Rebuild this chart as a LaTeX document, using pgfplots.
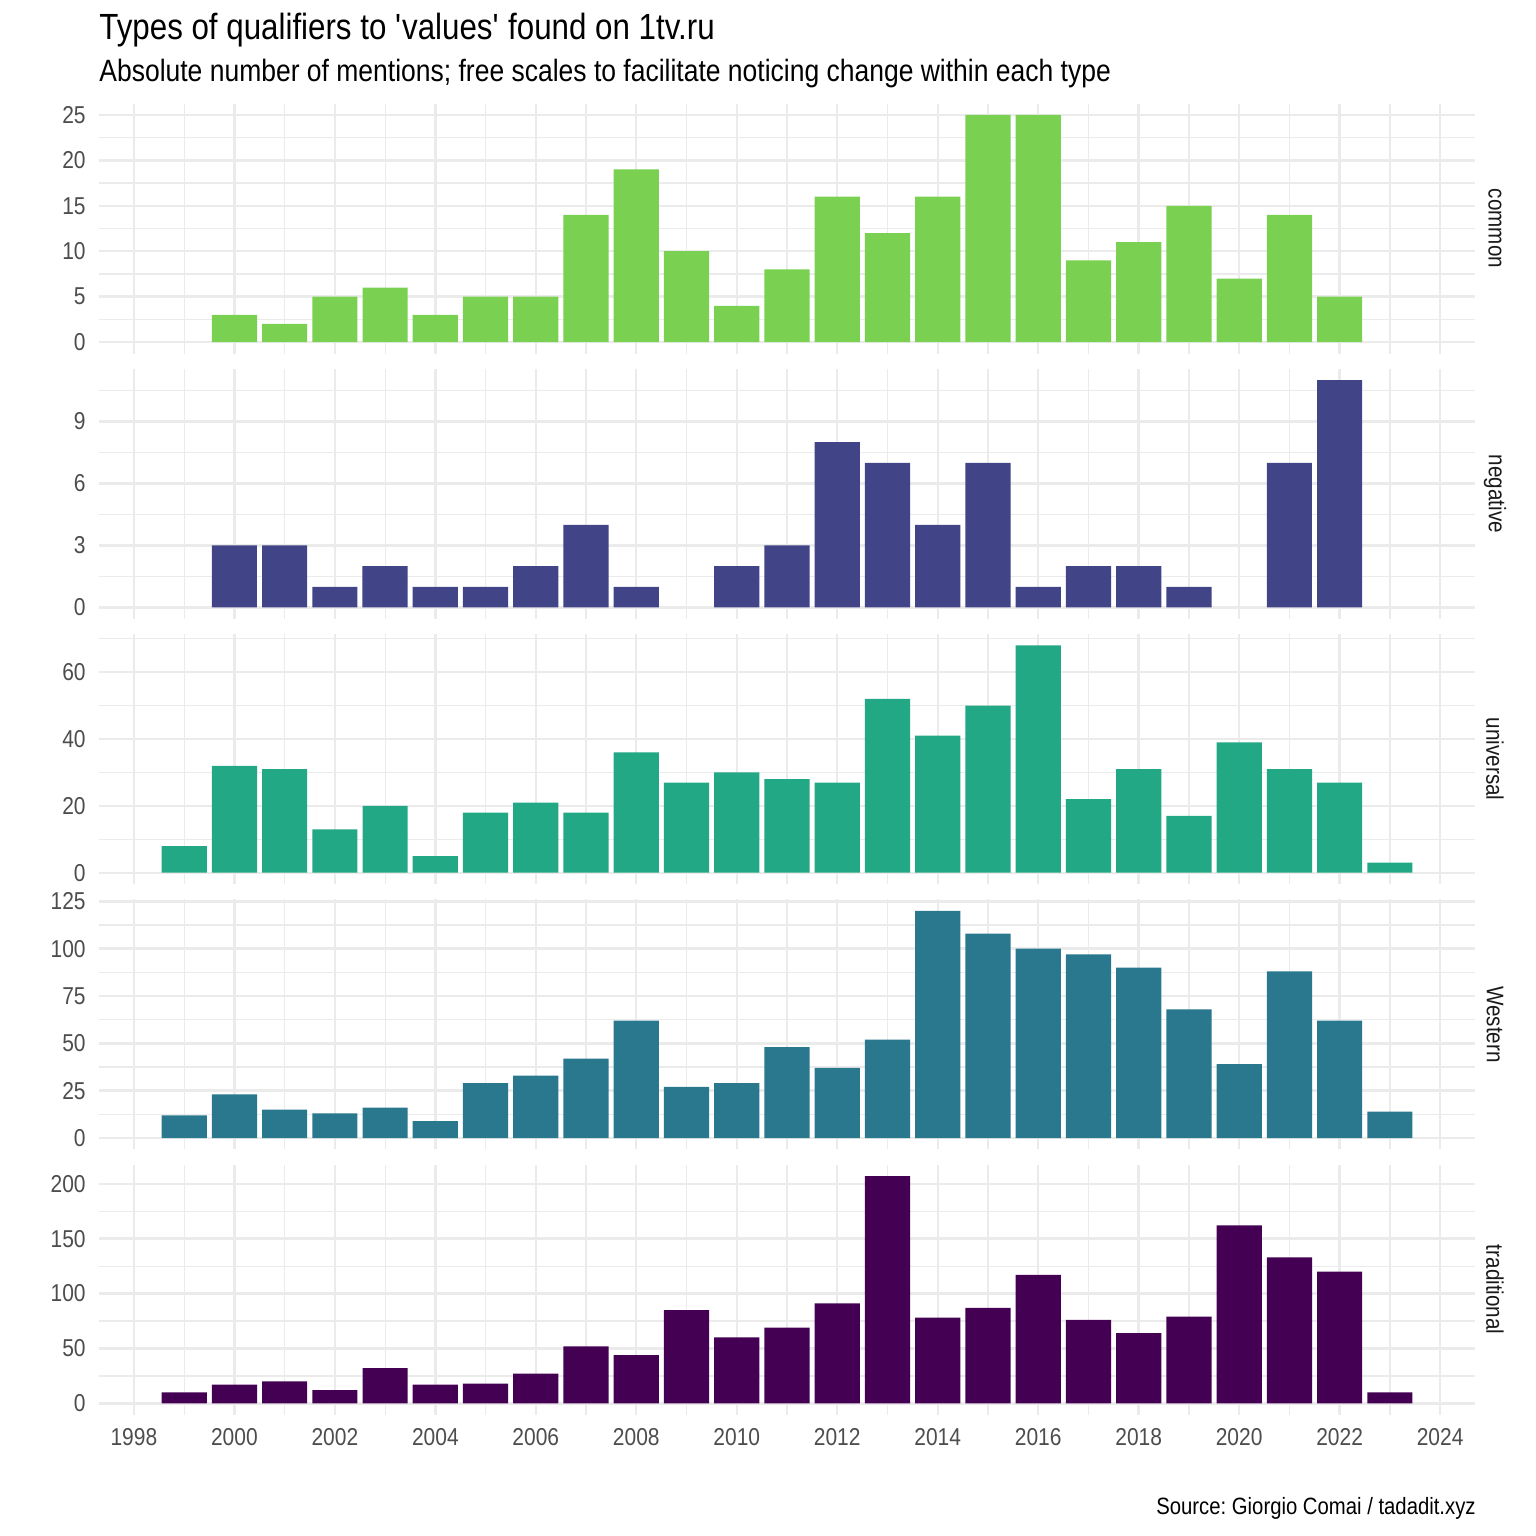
\documentclass[border=0pt]{standalone}
\usepackage{fontspec}
\setmainfont{Liberation Sans}[FakeStretch=0.86]
\usepackage{pgfplots}
\pgfplotsset{compat=1.18}
\frenchspacing
\definecolor{gridc}{HTML}{EBEBEB}
\definecolor{ticktxt}{HTML}{4D4D4D}
\definecolor{striptxt}{HTML}{1A1A1A}
\definecolor{cCommon}{HTML}{7AD151}
\definecolor{cNegative}{HTML}{414487}
\definecolor{cUniversal}{HTML}{22A884}
\definecolor{cWestern}{HTML}{2A788E}
\definecolor{cTraditional}{HTML}{440154}
\pgfplotsset{
  panel/.style={
    scale only axis, width=688bp, height=125bp,
    xmin=1997.305, xmax=2024.695,
    axis line style={draw=none},
    major tick length=0pt, minor tick length=0pt,
    xtick={1998,2000,...,2024},
    minor xtick={1999,2001,...,2023},
    grid=both,
    major grid style={draw=gridc, line width=1.2bp},
    minor grid style={draw=gridc, line width=0.6bp},
    xticklabels={},
    /pgf/number format/assume math mode=true,
    /pgf/number format/1000 sep={},
    yticklabel style={font=\fontsize{12.2bp}{13bp}\selectfont, text=ticktxt, anchor=east, inner sep=0pt, xshift=-6.5bp},
    xticklabel style={font=\fontsize{12.2bp}{13bp}\selectfont, text=ticktxt, anchor=north, inner sep=0pt, yshift=-6.5bp},
  },
  bars/.style={ybar, bar width=0.9, draw=none, fill=#1},
}
\begin{document}
\begin{tikzpicture}
\path[use as bounding box] (0,0) rectangle (768bp,-768bp);
% common
\begin{axis}[panel, at={(49.5bp,-51.75bp)}, anchor=north west,
  ymin=-1.25, ymax=26.25, ytick={0,5,...,25}, minor ytick={2.5,7.5,...,22.5}]
\addplot[bars=cCommon] coordinates {(2000,3)(2001,2)(2002,5)(2003,6)(2004,3)(2005,5)(2006,5)(2007,14)(2008,19)(2009,10)(2010,4)(2011,8)(2012,16)(2013,12)(2014,16)(2015,25)(2016,25)(2017,9)(2018,11)(2019,15)(2020,7)(2021,14)(2022,5)};
\end{axis}
% negative
\begin{axis}[panel, at={(49.5bp,-184.4bp)}, anchor=north west,
  ymin=-0.55, ymax=11.55, ytick={0,3,6,9}, minor ytick={1.5,4.5,7.5,10.5}]
\addplot[bars=cNegative] coordinates {(2000,3)(2001,3)(2002,1)(2003,2)(2004,1)(2005,1)(2006,2)(2007,4)(2008,1)(2010,2)(2011,3)(2012,8)(2013,7)(2014,4)(2015,7)(2016,1)(2017,2)(2018,2)(2019,1)(2021,7)(2022,11)};
\end{axis}
% universal
\begin{axis}[panel, at={(49.5bp,-317.05bp)}, anchor=north west,
  ymin=-3.4, ymax=71.4, ytick={0,20,40,60}, minor ytick={10,30,50,70}]
\addplot[bars=cUniversal] coordinates {(1999,8)(2000,32)(2001,31)(2002,13)(2003,20)(2004,5)(2005,18)(2006,21)(2007,18)(2008,36)(2009,27)(2010,30)(2011,28)(2012,27)(2013,52)(2014,41)(2015,50)(2016,68)(2017,22)(2018,31)(2019,17)(2020,39)(2021,31)(2022,27)(2023,3)};
\end{axis}
% Western
\begin{axis}[panel, at={(49.5bp,-449.7bp)}, anchor=north west,
  ymin=-6, ymax=126, ytick={0,25,...,125}, minor ytick={12.5,37.5,...,112.5}]
\addplot[bars=cWestern] coordinates {(1999,12)(2000,23)(2001,15)(2002,13)(2003,16)(2004,9)(2005,29)(2006,33)(2007,42)(2008,62)(2009,27)(2010,29)(2011,48)(2012,37)(2013,52)(2014,120)(2015,108)(2016,100)(2017,97)(2018,90)(2019,68)(2020,39)(2021,88)(2022,62)(2023,14)};
\end{axis}
% traditional
\begin{axis}[panel, at={(49.5bp,-582.35bp)}, anchor=north west,
  ymin=-10.35, ymax=217.35, ytick={0,50,...,200}, minor ytick={25,75,125,175},
  xticklabels={1998,2000,2002,2004,2006,2008,2010,2012,2014,2016,2018,2020,2022,2024}]
\addplot[bars=cTraditional] coordinates {(1999,10)(2000,17)(2001,20)(2002,12)(2003,32)(2004,17)(2005,18)(2006,27)(2007,52)(2008,44)(2009,85)(2010,60)(2011,69)(2012,91)(2013,207)(2014,78)(2015,87)(2016,117)(2017,76)(2018,64)(2019,79)(2020,162)(2021,133)(2022,120)(2023,10)};
\end{axis}
% strip labels
\begin{scope}[every node/.style={rotate=-90, font=\fontsize{12bp}{13bp}\selectfont, text=striptxt, inner sep=0pt}]
\node at (747.5bp,-114.25bp) {common};
\node at (747.5bp,-246.9bp) {negative};
\node at (747.5bp,-379.55bp) {universal};
\node at (747.5bp,-512.2bp) {Western};
\node at (747.5bp,-644.85bp) {traditional};
\end{scope}
% titles
\node[anchor=base west, inner sep=0pt, font=\fontsize{18.2bp}{21bp}\selectfont] at (49.5bp,-19.5bp) {Types of qualifiers to \textquotesingle values\textquotesingle{} found on 1tv.ru};
\node[anchor=base west, inner sep=0pt, font=\fontsize{15.4bp}{18bp}\selectfont] at (49.5bp,-40.5bp) {Absolute number of mentions; free scales to facilitate noticing change within each type};
\node[anchor=base east, inner sep=0pt, font=\fontsize{11.8bp}{14bp}\selectfont] at (738bp,-757bp) {Source: Giorgio Comai / tadadit.xyz};
\end{tikzpicture}
\end{document}
